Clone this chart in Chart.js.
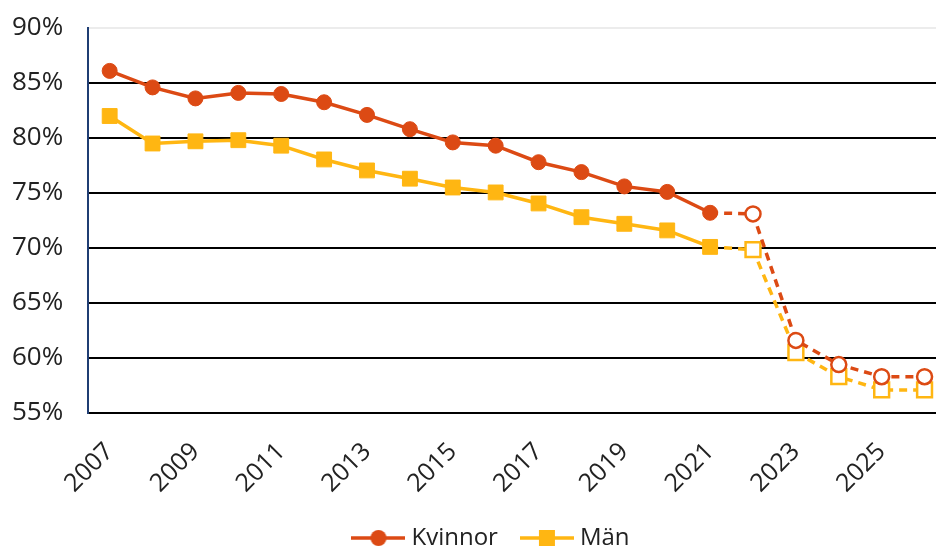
<!DOCTYPE html>
<html><head><meta charset="utf-8">
<script src="https://cdn.jsdelivr.net/npm/chart.js@4"></script>
<style>
html,body{margin:0;padding:0;overflow:hidden;background:#fff}
#wrap{width:960px;height:560px;position:relative}
</style></head>
<body><div id="wrap"><canvas id="c"></canvas></div>
<script>
const years = ['2007','2008','2009','2010','2011','2012','2013','2014','2015','2016','2017','2018','2019','2020','2021','2022','2023','2024','2025','2026'];
const kvinnor = [86.1,84.6,83.6,84.1,84.0,83.25,82.1,80.8,79.6,79.3,77.8,76.9,75.6,75.1,73.2,73.1,61.6,59.4,58.3,58.3];
const man = [82.0,79.5,79.7,79.8,79.3,78.05,77.05,76.3,75.5,75.05,74.05,72.8,72.2,71.6,70.1,69.85,60.5,58.3,57.1,57.1];
const shownYearLabels = ['2007','2009','2011','2013','2015','2017','2019','2021','2023','2025'];
const firstForecastYear = '2022';
const yTicks = [55,60,65,70,75,80,85,90];

const RED = '#DC4A14', YEL = '#FFB612';
const fIdx = years.indexOf(firstForecastYear);

function legendImg(color, style) {
  const cv = document.createElement('canvas');
  cv.width = 54; cv.height = 20;
  const g = cv.getContext('2d');
  g.strokeStyle = color; g.lineWidth = 3.5;
  g.beginPath(); g.moveTo(0,10); g.lineTo(54,10); g.stroke();
  g.fillStyle = color;
  if (style === 'circle') { g.beginPath(); g.arc(27,10,8,0,Math.PI*2); g.fill(); }
  else { g.fillRect(19,2,16,16); }
  return cv;
}
const legImgs = [legendImg(RED,'circle'), legendImg(YEL,'rect')];

function ds(label, data, color, style, radius) {
  return {
    label, data,
    borderColor: color, backgroundColor: color,
    borderWidth: 3.5,
    pointStyle: style,
    pointRadius: radius,
    pointHoverRadius: radius,
    pointBackgroundColor: data.map((v,i) => i >= fIdx ? '#ffffff' : color),
    pointBorderColor: color,
    pointBorderWidth: data.map((v,i) => i >= fIdx ? 2.5 : 1),
    tension: 0,
    segment: { borderDash: c => c.p0DataIndex >= fIdx - 1 ? [8,6] : undefined }
  };
}

const shiftLegend = {
  id: 'shiftLegend',
  afterLayout(chart) { if (chart.legend) { chart.legend.left += 27; chart.legend.right += 27; } }
};

new Chart(document.getElementById('c'), {
  type: 'line',
  data: {
    labels: years,
    datasets: [
      ds('Kvinnor', kvinnor, RED, 'circle', 7.5),
      ds('Män', man, YEL, 'rect', 10.5)
    ]
  },
  plugins: [shiftLegend],
  options: {
    responsive: true, maintainAspectRatio: false, animation: false,
    layout: { padding: { left: -13, right: 14, top: 28, bottom: 0 } },
    plugins: {
      tooltip: { enabled: false },
      legend: {
        position: 'bottom',
        labels: {
          usePointStyle: true, pointStyleWidth: 42, padding: 28,
          color: '#222', font: { family: 'Open Sans', size: 24 },
          generateLabels: chart => chart.data.datasets.map((d,i) => ({
            text: d.label, fillStyle: d.borderColor, strokeStyle: d.borderColor,
            lineWidth: 0, hidden: false, datasetIndex: i, pointStyle: legImgs[i], fontColor: '#222'
          }))
        }
      }
    },
    scales: {
      x: {
        offset: true,
        afterFit: s => { s.height = 85; s.paddingLeft = 0; s.paddingRight = 0; },
        grid: { display: false, drawTicks: false },
        border: { color: '#000', width: 2 },
        ticks: {
          autoSkip: false, maxRotation: 45, minRotation: 45, padding: 24,
          color: '#222', font: { family: 'Open Sans', size: 25 },
          callback: (v,i) => shownYearLabels.includes(years[i]) ? years[i] : ''
        }
      },
      y: {
        min: 55, max: 90,
        afterBuildTicks: s => { s.ticks = yTicks.map(v => ({value: v})); },
        afterFit: s => { s.paddingTop = 0; s.paddingBottom = 0; },
        grid: {
          drawTicks: false, lineWidth: 2,
          color: c => c.tick && c.tick.value === 90 ? '#ececec' : '#000'
        },
        border: { color: '#1F3D73', width: 2 },
        ticks: {
          padding: 25, color: '#222', font: { family: 'Open Sans', size: 26 },
          callback: v => v + '%'
        }
      }
    }
  }
});
</script>
</body></html>
